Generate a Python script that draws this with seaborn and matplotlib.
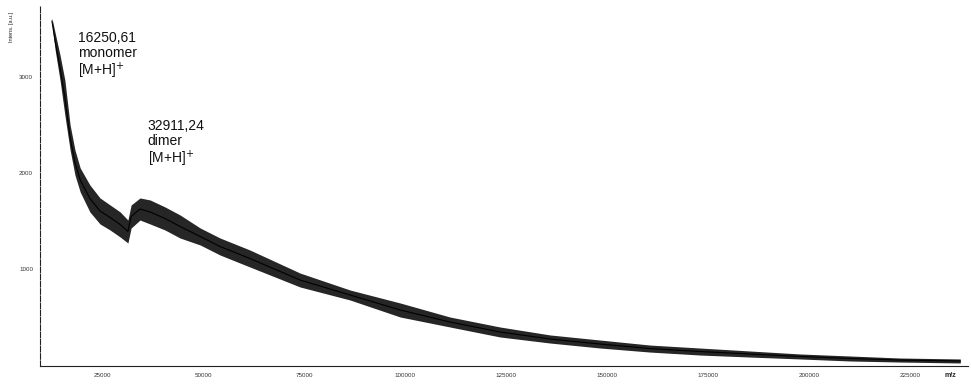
import matplotlib
matplotlib.use("Agg")
import matplotlib.pyplot as plt
import pandas as pd
import seaborn as sns

sns.set_theme(style="white")
plt.rcParams["font.family"] = ["Liberation Sans", "DejaVu Sans"]

# m/z positions, with the upper and lower edge of the noisy trace
mz = [12600, 13400, 14600, 15800, 17100, 18300, 19600, 22000, 24500, 27000,
      29500, 31400, 32200, 34400, 36900, 40600, 44300, 49300, 54200, 61600,
      74000, 86400, 98800, 111100, 123500, 135900, 148300, 160600, 173000,
      185400, 197800, 210100, 222500, 237400]
intens_hi = [3615, 3458, 3229, 2969, 2500, 2240, 2052, 1875, 1740, 1667,
             1594, 1510, 1667, 1740, 1719, 1646, 1563, 1427, 1323, 1198,
             958, 781, 646, 500, 396, 313, 260, 208, 177,
             146, 115, 94, 73, 63]
intens_lo = [3552, 3281, 2969, 2604, 2240, 1979, 1802, 1594, 1469, 1406,
             1333, 1271, 1427, 1510, 1469, 1406, 1323, 1250, 1146, 1021,
             813, 677, 500, 396, 292, 229, 177, 135, 104,
             83, 63, 42, 31, 21]

x_ticks = [25000, 50000, 75000, 100000, 125000, 150000, 175000, 200000, 225000]
y_ticks = [1000, 2000, 3000]

monomer_label = "16250,61\nmonomer\n[M+H]$^{+}$"
dimer_label = "32911,24\ndimer\n[M+H]$^{+}$"

df = pd.DataFrame({
    "mz": mz + mz,
    "intens": intens_hi + intens_lo,
})

fig = plt.figure(figsize=(9.71, 3.85), dpi=100)
ax = fig.add_axes([0.0412, 0.0494, 0.9557, 0.9377])

# band between the two edges of the trace (min..max per m/z)
sns.lineplot(data=df, x="mz", y="intens", ax=ax, color="black", lw=0.8,
             errorbar=("pi", 100), err_kws={"alpha": 0.85, "lw": 0})

ax.set_xlim(9650, 239300)
ax.set_ylim(-10, 3750)
ax.set_xticks(x_ticks)
ax.set_xticklabels([str(v) for v in x_ticks])
ax.set_yticks(y_ticks)
ax.set_yticklabels([str(v) for v in y_ticks])
ax.tick_params(axis="both", labelsize=4.5, colors="#333333", length=2, width=0.6, pad=3)
ax.set_xlabel("")
ax.set_ylabel("")

for s in ["top", "right"]:
    ax.spines[s].set_visible(False)
ax.spines["left"].set_color("#222222")
ax.spines["left"].set_linewidth(0.8)
ax.spines["left"].set_linestyle((0, (5, 1.5)))
ax.spines["bottom"].set_color("#222222")
ax.spines["bottom"].set_linewidth(0.8)

ax.text(0.041, 0.928, monomer_label, transform=ax.transAxes, ha="left", va="top",
        fontsize=10, linespacing=1.05, color="#111111")
ax.text(0.116, 0.683, dimer_label, transform=ax.transAxes, ha="left", va="top",
        fontsize=10, linespacing=1.05, color="#111111")

fig.text(0.009, 0.97, "Intens. [a.u.]", rotation=90, ha="left", va="top",
         fontsize=4, color="#222222")
fig.text(0.985, 0.015, "m/z", ha="right", va="bottom", fontsize=5,
         fontweight="bold", color="#222222")

plt.savefig("out.png", dpi=100)
